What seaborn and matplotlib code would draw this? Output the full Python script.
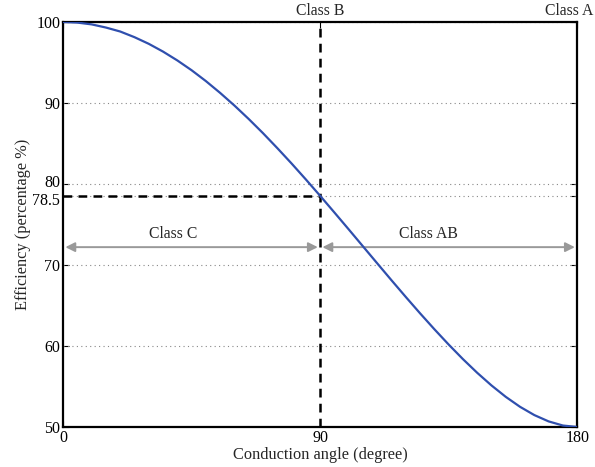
import matplotlib
matplotlib.use("Agg")
import matplotlib.pyplot as plt
import matplotlib.transforms as mtransforms
import seaborn as sns
import pandas as pd

# Conduction angle (degree) and drain efficiency (%)
angle = [0, 5, 10, 15, 20, 25, 30, 35, 40, 45, 50, 55, 60, 65, 70, 75, 80, 85, 90,
         95, 100, 105, 110, 115, 120, 125, 130, 135, 140, 145, 150, 155, 160, 165,
         170, 175, 180]
efficiency = [100.0, 99.92, 99.70, 99.31, 98.82, 98.12, 97.30, 96.34, 95.25, 94.04,
              92.70, 91.24, 89.68, 88.02, 86.27, 84.43, 82.53, 80.56, 78.54, 76.48,
              74.40, 72.30, 70.20, 68.11, 66.05, 64.03, 62.07, 60.18, 58.38, 56.69,
              55.13, 53.72, 52.49, 51.47, 50.69, 50.18, 50.0]

x_ticks = [0, 90, 180]
y_ticks = [50, 60, 70, 78.5, 80, 90, 100]
y_tick_labels = ["50", "60", "70", "78.5", "80", "90", "100"]

class_b_angle = 90
class_b_eff = 78.5
arrow_level = 72.2
class_labels = ["Class C", "Class AB"]
class_label_x = [38.5, 128]

sns.set_theme(style="white")
plt.rcParams["font.family"] = ["Liberation Serif", "DejaVu Serif"]

fig = plt.figure(figsize=(5.95, 4.67), dpi=100)
ax = fig.add_axes([0.106, 0.0857, 0.864, 0.8673])

df = pd.DataFrame({"angle": angle, "eff": efficiency})
sns.lineplot(data=df, x="angle", y="eff", ax=ax, color="#2f4fae", linewidth=1.6,
             zorder=4)

ax.set_xlim(0, 180)
ax.set_ylim(50, 100)
ax.set_xticks(x_ticks)
ax.set_xticklabels([str(v) for v in x_ticks])
ax.set_yticks(y_ticks)
ax.set_yticklabels(y_tick_labels)

# horizontal dotted grid only
for yv in y_ticks:
    if yv == 50:
        continue
    ax.axhline(yv, color="#888888", linestyle=(0, (1, 3)), linewidth=0.8, zorder=1)

# Class B markers
ax.plot([class_b_angle, class_b_angle], [50, 100], color="black", linewidth=1.8,
        linestyle=(0, (3.5, 2.5)), zorder=3)
ax.plot([0, class_b_angle], [class_b_eff, class_b_eff], color="black", linewidth=1.8,
        linestyle=(0, (3.5, 2.5)), zorder=3)

# class range arrows
arrow_kw = dict(arrowstyle="<|-|>", color="#999999", lw=1.4, mutation_scale=14,
                shrinkA=0, shrinkB=0)
ax.annotate("", xy=(0.8, arrow_level), xytext=(class_b_angle - 0.8, arrow_level),
            arrowprops=arrow_kw, zorder=2)
ax.annotate("", xy=(class_b_angle + 0.8, arrow_level), xytext=(179.2, arrow_level),
            arrowprops=arrow_kw, zorder=2)
for lbl, xv in zip(class_labels, class_label_x):
    ax.text(xv, arrow_level + 0.6, lbl, ha="center", va="bottom", fontsize=11.3)

ax.text(class_b_angle, 100.4, "Class B", ha="center", va="bottom", fontsize=11.3,
        clip_on=False)
ax.text(1.032, 100.4, "Class A", ha="right", va="bottom", fontsize=11.3,
        transform=ax.get_yaxis_transform(), clip_on=False)

ax.set_xlabel("Conduction angle (degree)", fontsize=11.8, labelpad=1)
ax.set_ylabel("Efficiency (percentage %)", fontsize=11.8, labelpad=1)

for side in ["left", "right", "top", "bottom"]:
    ax.spines[side].set_visible(True)
    ax.spines[side].set_color("black")
    ax.spines[side].set_linewidth(1.6)

ax.tick_params(axis="both", direction="in", length=4, width=0.8, colors="black",
               labelsize=11.5, pad=2, left=True, right=True, bottom=True, top=True)
ax.tick_params(axis="x", pad=2)

# nudge the two close labels apart slightly
for lab, val in zip(ax.get_yticklabels(), y_ticks):
    if val == 78.5:
        lab.set_transform(lab.get_transform() +
                          mtransforms.ScaledTranslation(0, -2 / 72, fig.dpi_scale_trans))
    elif val == 80:
        lab.set_transform(lab.get_transform() +
                          mtransforms.ScaledTranslation(0, 2 / 72, fig.dpi_scale_trans))

fig.savefig("out.png", dpi=100)
